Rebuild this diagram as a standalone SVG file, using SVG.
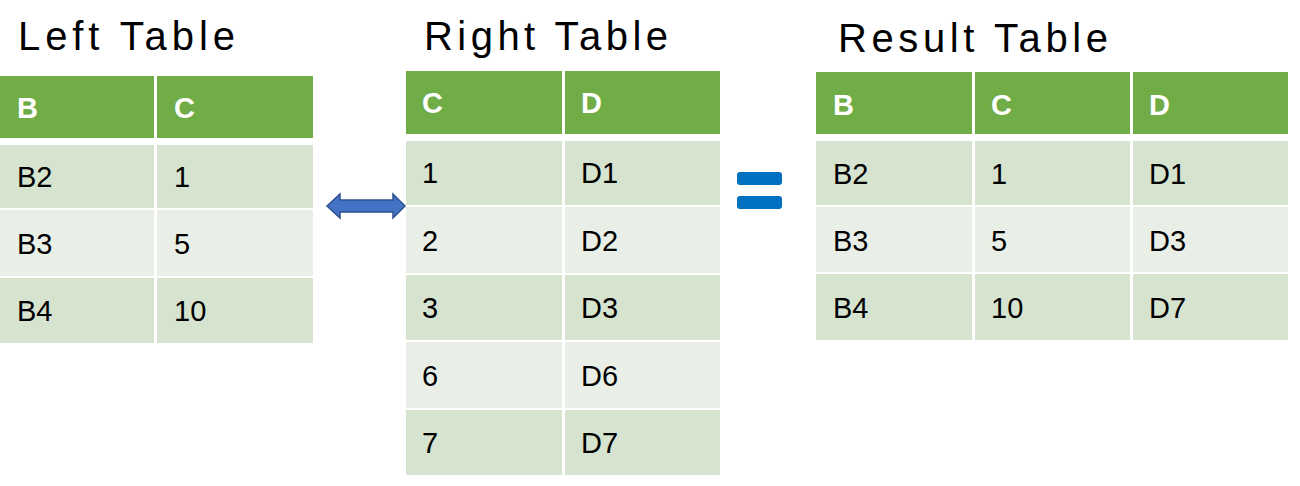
<svg xmlns="http://www.w3.org/2000/svg" width="1300" height="486" viewBox="0 0 1300 486">
<style>
.t{font-family:"Liberation Sans",Arial,sans-serif;font-size:40px;fill:#000}
.h{fill:#70AD47}.o{fill:#D5E3CF}.e{fill:#E9EFE7}
.ht{font-family:"Liberation Sans",Arial,sans-serif;font-size:29px;font-weight:bold;fill:#fff}
.c{font-family:"Liberation Sans",Arial,sans-serif;font-size:29px;fill:#000}
</style>
<rect width="1300" height="486" fill="#fff"/>
<text class="t" x="18" y="50" textLength="217">Left Table</text>
<text class="t" x="424" y="50" textLength="244">Right Table</text>
<text class="t" x="838" y="52" textLength="270">Result Table</text>
<g id="left-table">
<rect class="h" x="0" y="76" width="154" height="62"/><rect class="h" x="157" y="76" width="156" height="62"/>
<rect class="o" x="0" y="145" width="154" height="63"/><rect class="o" x="157" y="145" width="156" height="63"/>
<rect class="e" x="0" y="210" width="154" height="66"/><rect class="e" x="157" y="210" width="156" height="66"/>
<rect class="o" x="0" y="278" width="154" height="65"/><rect class="o" x="157" y="278" width="156" height="65"/>
<text class="ht" x="17" y="118">B</text><text class="ht" x="174" y="118">C</text>
<text class="c" x="17" y="187">B2</text><text class="c" x="174" y="187">1</text>
<text class="c" x="17" y="254">B3</text><text class="c" x="174" y="254">5</text>
<text class="c" x="17" y="321">B4</text><text class="c" x="174" y="321">10</text>
</g>
<g id="right-table">
<rect class="h" x="406" y="71" width="156" height="63"/><rect class="h" x="565" y="71" width="155" height="63"/>
<rect class="o" x="406" y="141" width="156" height="64"/><rect class="o" x="565" y="141" width="155" height="64"/>
<rect class="e" x="406" y="207" width="156" height="66"/><rect class="e" x="565" y="207" width="155" height="66"/>
<rect class="o" x="406" y="275" width="156" height="65"/><rect class="o" x="565" y="275" width="155" height="65"/>
<rect class="e" x="406" y="342" width="156" height="66"/><rect class="e" x="565" y="342" width="155" height="66"/>
<rect class="o" x="406" y="410" width="156" height="65"/><rect class="o" x="565" y="410" width="155" height="65"/>
<text class="ht" x="422" y="113">C</text><text class="ht" x="581" y="113">D</text>
<text class="c" x="422" y="183">1</text><text class="c" x="581" y="183">D1</text>
<text class="c" x="422" y="251">2</text><text class="c" x="581" y="251">D2</text>
<text class="c" x="422" y="318">3</text><text class="c" x="581" y="318">D3</text>
<text class="c" x="422" y="386">6</text><text class="c" x="581" y="386">D6</text>
<text class="c" x="422" y="453">7</text><text class="c" x="581" y="453">D7</text>
</g>
<g id="result-table">
<rect class="h" x="816" y="72" width="156" height="62"/><rect class="h" x="975" y="72" width="155" height="62"/><rect class="h" x="1133" y="72" width="155" height="62"/>
<rect class="o" x="816" y="141" width="156" height="64"/><rect class="o" x="975" y="141" width="155" height="64"/><rect class="o" x="1133" y="141" width="155" height="64"/>
<rect class="e" x="816" y="207" width="156" height="65"/><rect class="e" x="975" y="207" width="155" height="65"/><rect class="e" x="1133" y="207" width="155" height="65"/>
<rect class="o" x="816" y="274" width="156" height="66"/><rect class="o" x="975" y="274" width="155" height="66"/><rect class="o" x="1133" y="274" width="155" height="66"/>
<text class="ht" x="833" y="115">B</text><text class="ht" x="991" y="115">C</text><text class="ht" x="1149" y="115">D</text>
<text class="c" x="833" y="184">B2</text><text class="c" x="991" y="184">1</text><text class="c" x="1149" y="184">D1</text>
<text class="c" x="833" y="251">B3</text><text class="c" x="991" y="251">5</text><text class="c" x="1149" y="251">D3</text>
<text class="c" x="833" y="318">B4</text><text class="c" x="991" y="318">10</text><text class="c" x="1149" y="318">D7</text>
</g>
<g id="connectors">
<path d="M327,206 L340,194 L340,200 L393,200 L393,194 L405,206 L393,218 L393,212 L340,212 L340,218 Z" fill="#4472C4" stroke="#2F528F" stroke-width="1.5"/>
<rect x="737" y="172" width="45" height="13" rx="3" fill="#0070C0"/>
<rect x="737" y="196" width="45" height="13" rx="3" fill="#0070C0"/>
</g>
</svg>
